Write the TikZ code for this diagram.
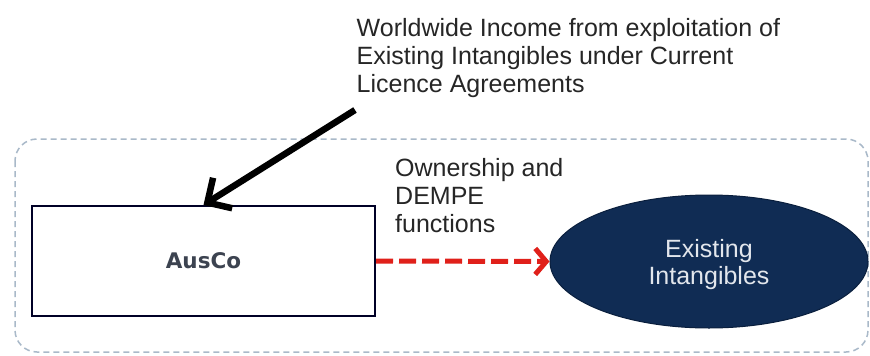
\documentclass[tikz,border=0pt]{standalone}
\usepackage{fontspec}
\setmainfont{Liberation Sans}
\newfontfamily\boxfont{DejaVu Sans}
\usetikzlibrary{arrows.meta,shapes.geometric}
\definecolor{txtgray}{HTML}{262626}
\definecolor{boxtxt}{HTML}{3C4350}
\definecolor{navy}{HTML}{102C54}
\definecolor{navyedge}{HTML}{0A1F3D}
\definecolor{contour}{HTML}{A9B9C9}
\definecolor{redarrow}{HTML}{E0201A}
\definecolor{elltxt}{HTML}{E2E6EC}
\tikzset{
  lbl/.style={anchor=north west, inner sep=0pt, align=left, text=txtgray,
              font=\fontsize{25}{28}\selectfont},
  container/.style={draw=contour, line width=1.5pt, dash pattern=on 6pt off 4pt, rounded corners=22pt},
  entitybox/.style={draw=black!85!blue, line width=2pt, rectangle, inner sep=0pt,
                    minimum width=343pt, minimum height=110pt,
                    font=\boxfont\bfseries\fontsize{21.5}{24}\selectfont, text=boxtxt},
  assetell/.style={ellipse, fill=navy, draw=navyedge, line width=1pt, inner sep=0pt,
                   minimum width=318pt, minimum height=133pt},
  elltext/.style={inner sep=0pt, align=center, text=elltxt, font=\fontsize{25}{27}\selectfont},
  incomearrow/.style={line width=6.5pt, -{Straight Barb[length=18pt,width=36pt]}},
  dempearrow/.style={draw=redarrow, line width=5pt, dash pattern=on 17pt off 6pt,
                     -{Straight Barb[length=11pt,width=26pt,line width=5pt]}}
}
\begin{document}
\begin{tikzpicture}[x=1pt,y=-1pt]
\useasboundingbox (0,0) rectangle (870,356);
\fill[white] (0,0) rectangle (870,356);
% container
\draw[container] (15,139) rectangle (868,352);
% nodes
\node[entitybox] (ausco) at (203.5,261) {AusCo};
\node[assetell] (intang) at (709,261.5) {};
\node[elltext] (inttext) at ([yshift=-3.5pt]intang.center) {Existing\\Intangibles};
\node[lbl] (income) at (356.5,17.7) {Worldwide Income from exploitation of\\Existing Intangibles under Current\\Licence Agreements};
\node[lbl] (dempe) at (395,157.7) {Ownership and\\DEMPE\\functions};
% connectors
\coordinate (incstart) at (355,110);
\draw[incomearrow] (incstart) -- (ausco.north);
\draw[dempearrow] (ausco.east) -- (intang.west);
\end{tikzpicture}
\end{document}
